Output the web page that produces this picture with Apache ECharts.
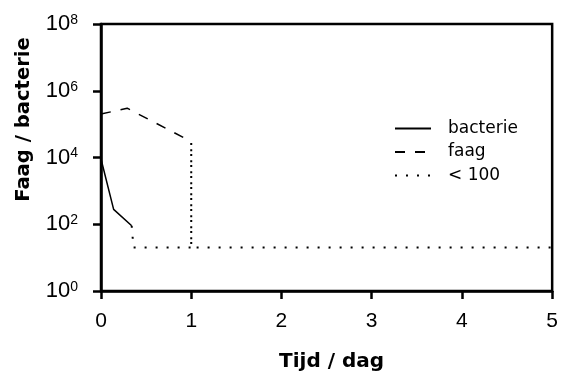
<!DOCTYPE html>
<html><head><meta charset="utf-8">
<script src="https://cdn.jsdelivr.net/npm/echarts@6/dist/echarts.min.js"></script>
<style>html,body{margin:0;padding:0;background:#fff}#c{width:561px;height:377px}</style>
</head><body><div id="c"></div>
<script>
var bacterie = [[0, 9000], [0.14, 280], [0.34, 90]];
var faag = [[0, 200000], [0.29, 300000], [1, 30000]];
var onder100 = [[0.34, 90], [0.36, 20], [1, 20], [1, 30000], [1, 20], [5, 20]];
var xTicks = [0, 1, 2, 3, 4, 5];
var yExponents = [0, 2, 4, 6, 8];

var font = 'DejaVu Sans';
var tickFont = 'Liberation Sans';
var chart = echarts.init(document.getElementById('c'));
chart.setOption({
  animation: false,
  grid: {left: 101, right: 6, top: 24, bottom: 81, show: true, borderColor: '#000', borderWidth: 2.5, backgroundColor: 'transparent'},
  legend: {
    orient: 'vertical', left: 394, top: 120, padding: 0, itemWidth: 36, itemHeight: 14, itemGap: 6.5,
    itemStyle: {opacity: 0, borderWidth: 0},
    textStyle: {fontFamily: font, fontSize: 17, lineHeight: 16, color: '#000', padding: [0, 0, 0, 12]},
    data: ['bacterie', 'faag', '< 100']
  },
  xAxis: {
    type: 'value', min: 0, max: 5, interval: 1,
    axisLine: {show: true, lineStyle: {color: '#000', width: 2.5}},
    axisTick: {show: true, length: 8, lineStyle: {color: '#000', width: 2.5}},
    splitLine: {show: false},
    axisLabel: {fontFamily: tickFont, fontSize: 21, color: '#000', margin: 20,
      formatter: function (v) { return xTicks.indexOf(v) >= 0 ? String(v) : ''; }},
    name: 'Tijd / dag', nameLocation: 'middle', nameGap: 61,
    nameTextStyle: {fontFamily: font, fontSize: 20, fontWeight: 'bold', color: '#000', padding: [0, 0, 0, 10]}
  },
  yAxis: {
    type: 'log', logBase: 10, min: 1, max: 1e8, interval: 2,
    axisLine: {show: true, lineStyle: {color: '#000', width: 2.5}},
    axisTick: {show: true, length: 8, lineStyle: {color: '#000', width: 2.5}},
    splitLine: {show: false},
    axisLabel: {fontFamily: tickFont, fontSize: 22, color: '#000', margin: 23,
      formatter: function (v) { var e = Math.round(Math.log10(v)); return yExponents.indexOf(e) >= 0 ? '10{s|' + e + '}' : ''; },
      rich: {s: {fontFamily: tickFont, fontSize: 14, color: '#000', verticalAlign: 'top', padding: [0, 0, 4, 0]}}},
    name: 'Faag / bacterie', nameLocation: 'middle', nameGap: 67,
    nameTextStyle: {fontFamily: font, fontSize: 19.6, fontWeight: 'bold', color: '#000', padding: [0, 0, 0, 76]}
  },
  series: [
    {name: 'bacterie', type: 'line', data: bacterie, symbol: 'none', lineStyle: {color: '#000', width: 1.5}, itemStyle: {color: '#000'}},
    {name: 'faag', type: 'line', data: faag, symbol: 'none', lineStyle: {color: '#000', width: 1.5, type: [10, 10]}, itemStyle: {color: '#000'}},
    {name: '< 100', type: 'line', data: onder100, symbol: 'none', lineStyle: {color: '#000', width: 2, type: [2, 9]}, itemStyle: {color: '#000'}}
  ]
});
</script></body></html>
